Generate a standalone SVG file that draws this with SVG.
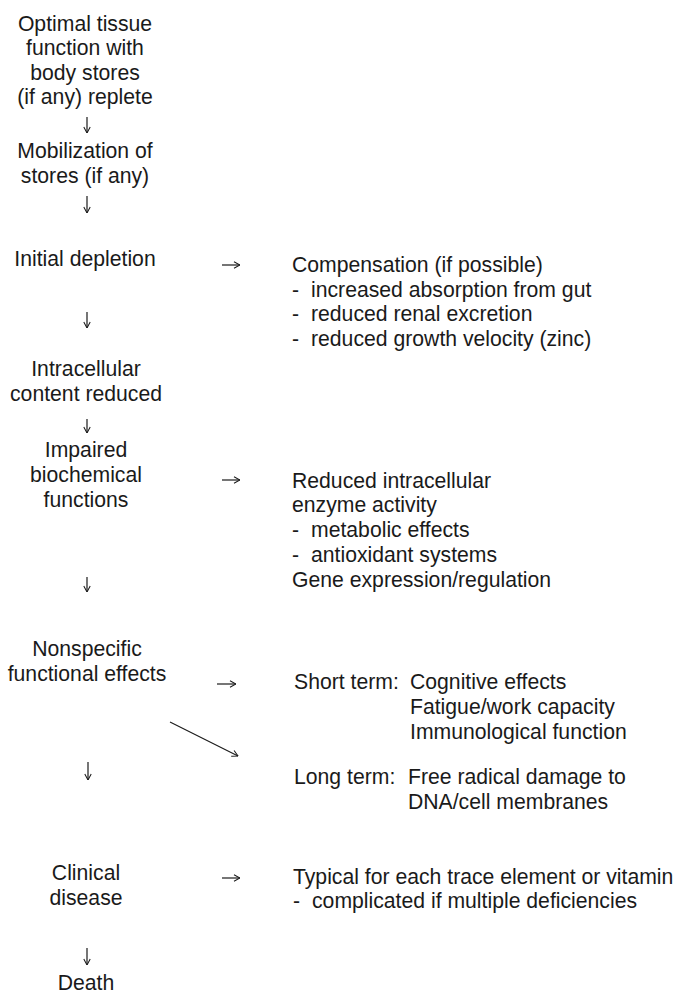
<svg xmlns="http://www.w3.org/2000/svg" width="679" height="997" viewBox="0 0 679 997">
<style>
text{font-family:"Liberation Sans",Arial,Helvetica,sans-serif;font-size:21.2px;fill:#1a1a1a}
.c{text-anchor:middle}
.a{fill:none;stroke:#1a1a1a;stroke-width:1.2;marker-end:url(#ah)}
</style>
<defs>
<marker id="ah" viewBox="0 0 10 10" refX="9.5" refY="5" markerWidth="8" markerHeight="8" markerUnits="userSpaceOnUse" orient="auto">
<path d="M2,1 L9.5,5 L2,9" fill="none" stroke="#1a1a1a" stroke-width="1.3"/>
</marker>
</defs>
<rect width="679" height="997" fill="#fff"/>
<g id="n1"><text class="c" x="85" y="31">Optimal tissue</text><text class="c" x="85" y="55">function with</text><text class="c" x="85" y="80">body stores</text><text class="c" x="85" y="104">(if any) replete</text></g>
<g id="n2"><text class="c" x="85" y="158">Mobilization of</text><text class="c" x="85" y="183">stores (if any)</text></g>
<g id="n3"><text class="c" x="85" y="266">Initial depletion</text></g>
<g id="n4"><text x="292" y="272">Compensation (if possible)</text><text x="292" y="297">-</text><text x="311" y="297">increased absorption from gut</text><text x="292" y="321">-</text><text x="311" y="321">reduced renal excretion</text><text x="292" y="346">-</text><text x="311" y="346">reduced growth velocity (zinc)</text></g>
<g id="n5"><text class="c" x="86" y="376">Intracellular</text><text class="c" x="86" y="401">content reduced</text></g>
<g id="n6"><text class="c" x="86" y="457">Impaired</text><text class="c" x="86" y="482">biochemical</text><text class="c" x="86" y="507">functions</text></g>
<g id="n7"><text x="292" y="488">Reduced intracellular</text><text x="292" y="512">enzyme activity</text><text x="292" y="537">-</text><text x="311" y="537">metabolic effects</text><text x="292" y="562">-</text><text x="311" y="562">antioxidant systems</text><text x="292" y="587">Gene expression/regulation</text></g>
<g id="n8"><text class="c" x="87" y="656">Nonspecific</text><text class="c" x="87" y="681">functional effects</text></g>
<g id="n9"><text x="294" y="689">Short term:</text><text x="410" y="689">Cognitive effects</text><text x="410" y="714">Fatigue/work capacity</text><text x="410" y="739">Immunological function</text></g>
<g id="n10"><text x="294" y="784">Long term:</text><text x="408" y="784">Free radical damage to</text><text x="408" y="809">DNA/cell membranes</text></g>
<g id="n11"><text class="c" x="86" y="880">Clinical</text><text class="c" x="86" y="905">disease</text></g>
<g id="n12"><text x="293" y="884">Typical for each trace element or vitamin</text><text x="293" y="908">-</text><text x="312" y="908">complicated if multiple deficiencies</text></g>
<g id="n13"><text class="c" x="86" y="990">Death</text></g>
<g id="connectors">
<path class="a" d="M87,117 V133"/>
<path class="a" d="M87,196 V213"/>
<path class="a" d="M222,265 H240"/>
<path class="a" d="M87,312 V328"/>
<path class="a" d="M87,419 V433"/>
<path class="a" d="M222,480 H240"/>
<path class="a" d="M87,577 V592"/>
<path class="a" d="M217,684 H236"/>
<path class="a" d="M170,722 L238,756"/>
<path class="a" d="M88,762 V780"/>
<path class="a" d="M222,878 H240"/>
<path class="a" d="M87,948 V965"/>
</g>
</svg>
